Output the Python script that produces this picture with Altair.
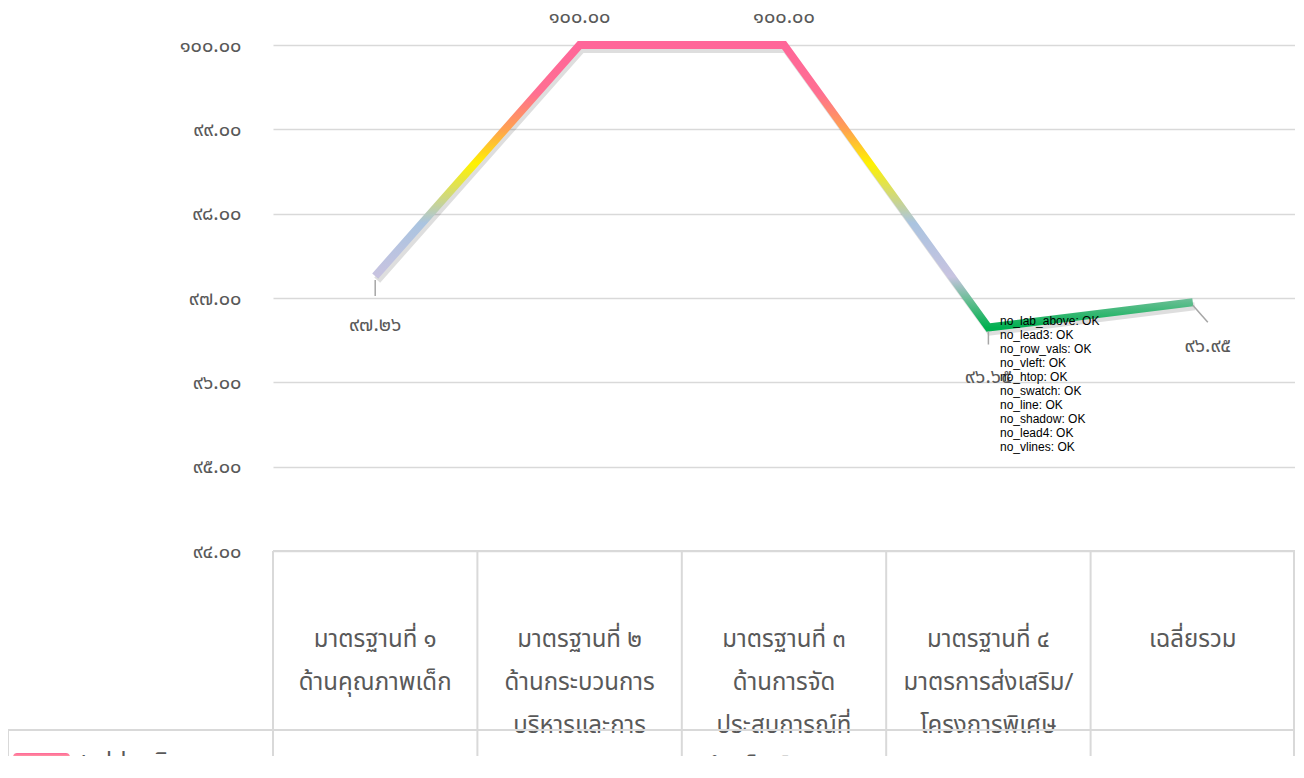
import altair as alt
import pandas as pd
import json, re

THAI = str.maketrans("0123456789", "๐๑๒๓๔๕๖๗๘๙")

categories = [
    "มาตรฐานที่ ๑\nด้านคุณภาพเด็ก",
    "มาตรฐานที่ ๒\nด้านกระบวนการ\nบริหารและการ\nจัดการ",
    "มาตรฐานที่ ๓\nด้านการจัด\nประสบการณ์ที่\nเน้นเด็กเป็นสำคัญ",
    "มาตรฐานที่ ๔\nมาตรการส่งเสริม/\nโครงการพิเศษ",
    "เฉลี่ยรวม",
]
values = [97.26, 100.00, 100.00, 96.65, 96.95]
value_labels = [f"{v:.2f}".translate(THAI) for v in values]
series_name = "สรุปประเมินตนเอง"
y_ticks = [94, 95, 96, 97, 98, 99, 100]
y_tick_labels = [f"{t:.2f}".translate(THAI) for t in y_ticks]

df = pd.DataFrame({"idx": list(range(len(categories))), "cat": categories, "value": values, "label": value_labels})

W, H = 1022, 506
FONT = "Noto Sans Thai, Leelawadee UI, Tahoma, Noto Sans, DejaVu Sans, sans-serif"
TXT = "#595959"
GRID = "#d9d9d9"
label_expr = "".join(f"datum.value == {t} ? '{lab}' : " for t, lab in zip(y_ticks, y_tick_labels)) + "''"
xscale = alt.Scale(domain=[-0.5, len(categories) - 0.5], nice=False, zero=False)
xenc = alt.X("idx:Q", scale=xscale, axis=None)
yscale = alt.Scale(domain=[94, 100], nice=False, zero=False)
yenc = alt.Y("value:Q", scale=yscale, axis=alt.Axis(values=y_ticks, labelExpr=label_expr, title=None,
             domain=False, ticks=False, labelPadding=32, labelFontSize=20, labelColor=TXT, labelFont=FONT,
             grid=True, gridColor=GRID, gridWidth=1.5))
base = alt.Chart(df)
line_grad = alt.LinearGradient(gradient="linear", x1=0, y1=0, x2=0, y2=1, stops=[
    alt.GradientStop(color="#ff6699", offset=0.0), alt.GradientStop(color="#ff6f92", offset=0.17),
    alt.GradientStop(color="#ffa24f", offset=0.30), alt.GradientStop(color="#fff200", offset=0.42),
    alt.GradientStop(color="#aac4e0", offset=0.63), alt.GradientStop(color="#c8c3e0", offset=0.82),
    alt.GradientStop(color="#60bd8e", offset=0.91), alt.GradientStop(color="#00b050", offset=1.0)])
L = {}
L["shadow"] = base.mark_line(color="#000000", opacity=0.13, strokeWidth=8, xOffset=2, yOffset=4, strokeJoin="miter").encode(x=xenc, y=yenc)
L["line"] = base.mark_line(color=line_grad, strokeWidth=8, strokeJoin="miter", strokeCap="butt").encode(x=xenc, y=yenc)
lab_style = dict(font=FONT, fontSize=20, color=TXT, baseline="middle", align="center")
L["lab_below"] = base.transform_filter("datum.idx == 0 || datum.idx == 3").mark_text(dy=49, **lab_style).encode(x="idx:Q", y="value:Q", text="label:N")
L["lab_above"] = base.transform_filter("datum.idx == 1 || datum.idx == 2").mark_text(dy=-28, **lab_style).encode(x="idx:Q", y="value:Q", text="label:N")
L["lab_last"] = base.transform_filter("datum.idx == 4").mark_text(dx=15, dy=44, **lab_style).encode(x="idx:Q", y="value:Q", text="label:N")
lead_style = dict(color="#a6a6a6", strokeWidth=1.5)
L["lead0"] = base.transform_filter("datum.idx == 0").mark_rule(yOffset=4, y2Offset=20, **lead_style).encode(x="idx:Q", y="value:Q", y2="value:Q")
L["lead3"] = base.transform_filter("datum.idx == 3").mark_rule(yOffset=4, y2Offset=17, **lead_style).encode(x="idx:Q", y="value:Q", y2="value:Q")
L["lead4"] = base.transform_filter("datum.idx == 4").mark_rule(yOffset=3, y2Offset=20, x2Offset=15, **lead_style).encode(x="idx:Q", x2="idx:Q", y="value:Q", y2="value:Q")
TOP = H; ROW = H + 179; BOT = H + 240
one = base.transform_filter("datum.idx == 0")
L["header"] = base.mark_text(font=FONT, fontSize=24, color=TXT, baseline="middle", align="center", lineBreak="\n", lineHeight=43).encode(x="idx:Q", y=alt.value(H + 89), text="cat:N")
L["row_vals"] = base.mark_text(font=FONT, fontSize=20, color=TXT, baseline="middle", align="center").encode(x="idx:Q", y=alt.value(H + 215), text="label:N")
L["vlines"] = base.transform_calculate(edge="datum.idx - 0.5").mark_rule(color=GRID, strokeWidth=2).encode(x="edge:Q", y=alt.value(TOP), y2=alt.value(BOT))
L["vright"] = one.mark_rule(color=GRID, strokeWidth=2).encode(x=alt.value(W - 1), y=alt.value(TOP), y2=alt.value(BOT))
L["vleft"] = one.mark_rule(color=GRID, strokeWidth=2).encode(x=alt.value(-265), y=alt.value(ROW), y2=alt.value(BOT))
L["hrow"] = one.mark_rule(color=GRID, strokeWidth=2).encode(x=alt.value(-265), x2=alt.value(W), y=alt.value(ROW))
L["htop"] = one.mark_rule(color=GRID, strokeWidth=2).encode(x=alt.value(0), x2=alt.value(W), y=alt.value(TOP))
legend_grad = alt.LinearGradient(gradient="linear", x1=0, y1=0, x2=0, y2=1, stops=[
    alt.GradientStop(color="#ff6699", offset=0.0), alt.GradientStop(color="#ff8fa0", offset=0.3),
    alt.GradientStop(color="#ffe84a", offset=0.5), alt.GradientStop(color="#aac4e0", offset=0.75),
    alt.GradientStop(color="#b8c8d8", offset=1.0)])
L["swatch"] = one.mark_rect(fill=legend_grad, cornerRadius=4).encode(x=alt.value(-260), x2=alt.value(-203), y=alt.value(H + 202), y2=alt.value(H + 211))
L["legend_text"] = one.mark_text(font=FONT, fontSize=24, color=TXT, baseline="middle", align="left").encode(x=alt.value(-201), y=alt.value(H + 212), text=alt.value(series_name))

def mk(keys):
    return alt.layer(*[L[k] for k in keys]).properties(width=W, height=H, background="white",
        padding={"left": 265, "top": 37, "right": 0, "bottom": 205},
        autosize=alt.AutoSizeParams(type="none")).configure_view(stroke=None)

keys = list(L)
specs = {"FULL": mk(keys)}
for k in ["lab_above", "lead3", "row_vals", "vleft", "htop", "swatch", "line", "shadow", "lead4", "vlines"]:
    specs["no_" + k] = mk([x for x in keys if x != k])

specs["FULL"].save("out.html", embed_options={"renderer": "svg", "actions": False})
html = open("out.html", encoding="utf-8").read()
scripts = "\n".join(re.findall(r'<script[^>]*src="[^"]+"[^>]*></script>', html))
body = ""; calls = ""
for i, (k, c) in enumerate(specs.items()):
    st = "" if i == 0 else "display:none"
    body += f'<div style="font:12px sans-serif;position:absolute;left:1000px;top:{i*14+300}px">{k}: <span id="e{i}">?</span></div><div id="v{i}" style="{st}"></div>\n'
    calls += f'vegaEmbed("#v{i}", {json.dumps(c.to_dict())}, {{renderer:"svg", actions:false}}).then(()=>{{document.getElementById("e{i}").textContent="OK"}}).catch(e=>{{document.getElementById("e{i}").textContent="ERR "+e.message}});\n'
out = f"<!DOCTYPE html><html><head><meta charset='utf-8'>{scripts}</head><body>{body}<script>{calls}</script></body></html>"
open("out.html", "w", encoding="utf-8").write(out)
